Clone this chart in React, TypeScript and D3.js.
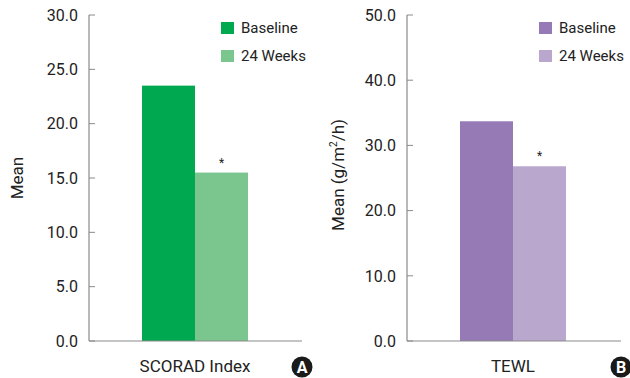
import React from "react";
import * as d3 from "d3";

const seriesNames = ["Baseline", "24 Weeks"];
const scoradValues = [23.5, 15.5];
const tewlValues = [33.7, 26.8];
const scoradTicks = [0, 5, 10, 15, 20, 25, 30];
const tewlTicks = [0, 10, 20, 30, 40, 50];

const FONT = "Roboto, 'Liberation Sans', sans-serif";
const AXIS = "#8a8a8a";

type PanelProps = {
  left: number;
  axisEnd: number;
  values: number[];
  ticks: number[];
  max: number;
  colors: string[];
  category: string;
  yLabel: React.ReactNode;
  badge: string;
};

function Panel(props: PanelProps) {
  const { left, axisEnd, values, ticks, max, colors, category, yLabel, badge } = props;
  const top = 15;
  const bottom = 341;
  const y = d3.scaleLinear().domain([0, max]).range([bottom, top]);
  const x = d3.scaleBand().domain(seriesNames).range([left + 53, left + 159]);
  const center = (left + 53 + left + 159) / 2;

  return (
    <g fontFamily={FONT}>
      {ticks.map(t => (
        <g key={t}>
          <line x1={left} x2={left + 6} y1={y(t)} y2={y(t)} stroke={AXIS} strokeWidth={1} />
          <text x={left - 11} y={y(t)} dy="0.36em" textAnchor="end" fontSize={16} fill="#222">
            {t.toFixed(1)}
          </text>
        </g>
      ))}
      {values.map((v, i) => (
        <rect key={i} x={x(seriesNames[i])} y={y(v)} width={x.bandwidth()}
          height={bottom - y(v)} fill={colors[i]} />
      ))}
      <text x={(x(seriesNames[1]) as number) + x.bandwidth() / 2} y={y(values[1]) - 6}
        textAnchor="middle" fontSize={12} fill="#222">*</text>
      <line x1={left} x2={left} y1={top} y2={bottom} stroke={AXIS} strokeWidth={1.2} />
      <line x1={left} x2={axisEnd} y1={bottom} y2={bottom} stroke={AXIS} strokeWidth={1.2} />
      {seriesNames.map((s, i) => (
        <g key={s}>
          <rect x={left + 132} y={22 + i * 28} width={13} height={12} fill={colors[i]} />
          <text x={left + 152} y={28 + i * 28} dy="0.36em" fontSize={15} fill="#222">{s}</text>
        </g>
      ))}
      <text x={center} y={372} textAnchor="middle" fontSize={17} fill="#222">{category}</text>
      {yLabel}
      <circle cx={axisEnd} cy={367} r={10.5} fill="#1a1a1a" />
      <text x={axisEnd} y={367} dy="0.36em" textAnchor="middle" fontSize={16}
        fontWeight="bold" fill="#fff">{badge}</text>
    </g>
  );
}

export default function App() {
  return (
    <svg width={630} height={378} style={{ position: "absolute", left: 0, top: 0, background: "#fff" }}>
      <rect width={630} height={378} fill="#fff" />
      <Panel left={89} axisEnd={302} values={scoradValues} ticks={scoradTicks} max={30}
        colors={["#00A84F", "#7BC68E"]} category="SCORAD Index" badge="A"
        yLabel={
          <text transform="translate(23,178) rotate(-90)" textAnchor="middle" fontSize={17}
            fontFamily={FONT} fill="#222">Mean</text>
        } />
      <Panel left={407} axisEnd={621} values={tewlValues} ticks={tewlTicks} max={50}
        colors={["#957AB6", "#B9A7CE"]} category="TEWL" badge="B"
        yLabel={
          <text transform="translate(344,175) rotate(-90)" textAnchor="middle" fontSize={17}
            fontFamily={FONT} fill="#222">
            Mean (g/m<tspan fontSize={10} dy={-7}>2</tspan><tspan dy={7}>/h)</tspan>
          </text>
        } />
    </svg>
  );
}
